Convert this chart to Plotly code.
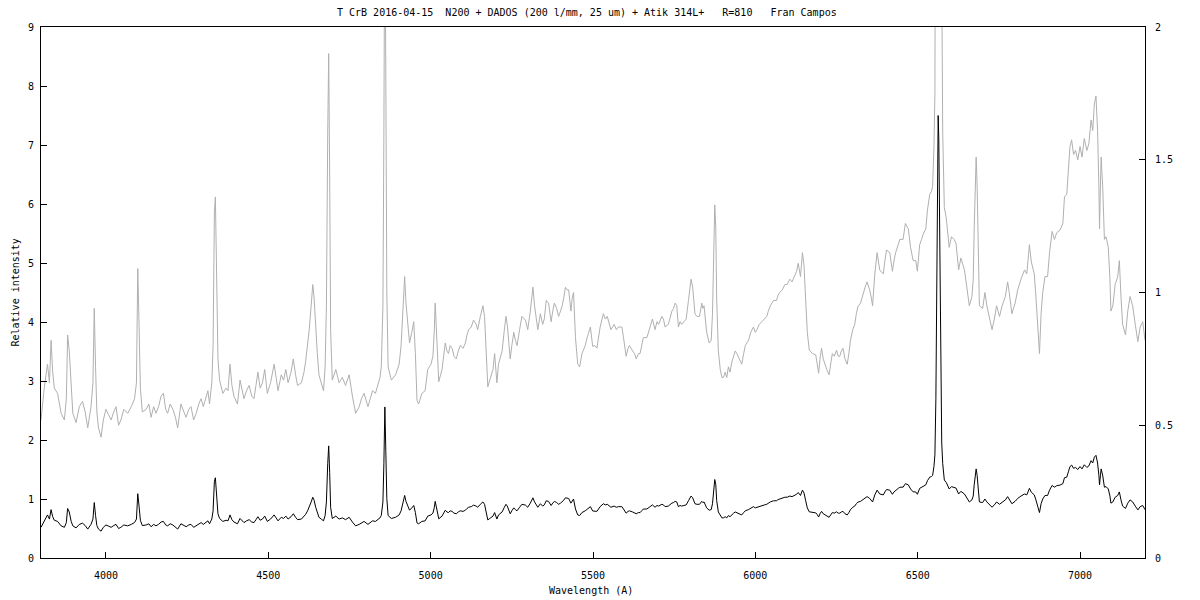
import plotly.graph_objects as go

# Wavelength (Angstrom) and relative intensity of the T CrB spectrum
wavelength = [
    3800, 3810, 3820, 3826, 3831, 3836, 3841, 3851, 3862, 3872, 3878, 3882, 3887, 3893, 3898, 3908,
    3918, 3928, 3936, 3944, 3954, 3960, 3964, 3968, 3972, 3977, 3985, 3992, 4000, 4008, 4016, 4024,
    4031, 4039, 4046, 4055, 4067, 4078, 4088, 4094, 4098, 4102, 4106, 4112, 4124, 4132, 4139, 4147,
    4154, 4162, 4170, 4177, 4184, 4190, 4198, 4206, 4214, 4221, 4231, 4240, 4247, 4255, 4262, 4270,
    4278, 4286, 4293, 4300, 4308, 4314, 4319, 4326, 4330, 4334, 4337, 4341, 4345, 4350, 4360, 4370,
    4376, 4382, 4388, 4394, 4405, 4413, 4420, 4425, 4433, 4441, 4449, 4456, 4462, 4468, 4475, 4482,
    4489, 4497, 4507, 4518, 4524, 4530, 4540, 4547, 4554, 4561, 4570, 4577, 4584, 4590, 4602, 4610,
    4615, 4621, 4626, 4632, 4637, 4641, 4646, 4651, 4656, 4663, 4670, 4675, 4679, 4683, 4686, 4689,
    4692, 4697, 4702, 4708, 4718, 4728, 4738, 4749, 4759, 4769, 4780, 4787, 4795, 4807, 4814, 4821,
    4830, 4838, 4844, 4848, 4853, 4856, 4859, 4862, 4865, 4869, 4879, 4892, 4903, 4909, 4913, 4917,
    4920, 4924, 4928, 4935, 4942, 4948, 4953, 4958, 4963, 4968, 4973, 4983, 4991, 5001, 5007, 5011,
    5014, 5017, 5021, 5025, 5035, 5040, 5045, 5050, 5055, 5060, 5066, 5072, 5079, 5085, 5091, 5100,
    5107, 5112, 5117, 5125, 5132, 5140, 5145, 5153, 5161, 5166, 5171, 5176, 5182, 5192, 5197, 5204,
    5209, 5215, 5220, 5227, 5232, 5236, 5240, 5245, 5250, 5256, 5261, 5266, 5274, 5281, 5292, 5299,
    5307, 5315, 5320, 5325, 5330, 5338, 5345, 5350, 5356, 5363, 5371, 5376, 5381, 5388, 5394, 5400,
    5405, 5410, 5415, 5420, 5425, 5432, 5436, 5440, 5446, 5453, 5459, 5466, 5476, 5482, 5487, 5492,
    5499, 5506, 5512, 5517, 5522, 5532, 5538, 5544, 5550, 5555, 5565, 5572, 5578, 5589, 5594, 5598,
    5602, 5608, 5612, 5622, 5628, 5633, 5640, 5645, 5650, 5655, 5666, 5674, 5679, 5683, 5691, 5697,
    5702, 5712, 5717, 5722, 5732, 5738, 5743, 5748, 5753, 5758, 5763, 5768, 5773, 5780, 5787, 5794,
    5798, 5802, 5807, 5810, 5814, 5820, 5828, 5835, 5838, 5842, 5846, 5850, 5858, 5864, 5868, 5871,
    5875, 5878, 5881, 5886, 5892, 5897, 5902, 5907, 5912, 5917, 5922, 5928, 5933, 5938, 5943, 5950,
    5958, 5964, 5969, 5979, 5986, 5994, 6000, 6005, 6012, 6020, 6028, 6035, 6040, 6046, 6056, 6065,
    6070, 6075, 6083, 6091, 6098, 6106, 6113, 6121, 6127, 6132, 6139, 6145, 6150, 6155, 6160, 6166,
    6176, 6186, 6190, 6195, 6200, 6204, 6209, 6214, 6220, 6227, 6232, 6237, 6243, 6250, 6255, 6260,
    6265, 6270, 6276, 6283, 6288, 6293, 6300, 6306, 6311, 6316, 6324, 6332, 6338, 6344, 6352, 6357,
    6361, 6368, 6375, 6383, 6394, 6399, 6404, 6414, 6422, 6427, 6432, 6440, 6445, 6455, 6462, 6471,
    6478, 6486, 6494, 6499, 6506, 6512, 6517, 6525, 6530, 6537, 6542, 6546, 6550, 6553, 6556, 6558,
    6561, 6563, 6565, 6568, 6571, 6574, 6577, 6582, 6588, 6597, 6604, 6612, 6618, 6626, 6633, 6644,
    6654, 6659, 6667, 6671, 6674, 6677, 6680, 6683, 6686, 6690, 6700, 6707, 6713, 6721, 6729, 6736,
    6743, 6752, 6760, 6770, 6777, 6782, 6790, 6800, 6808, 6818, 6829, 6836, 6844, 6850, 6859, 6864,
    6870, 6875, 6880, 6885, 6892, 6900, 6906, 6914, 6921, 6928, 6938, 6947, 6952, 6959, 6964, 6969,
    6974, 6980, 6986, 6993, 7000, 7006, 7013, 7021, 7027, 7034, 7039, 7044, 7049, 7054, 7058, 7060,
    7063, 7065, 7070, 7075, 7080, 7087, 7092, 7095, 7101, 7108, 7116, 7121, 7126, 7131, 7140, 7147,
    7154, 7162, 7170, 7178, 7185, 7193, 7200,
]

intensity = [
    0.52, 0.64, 0.73, 0.66, 0.82, 0.70, 0.64, 0.62, 0.545, 0.52, 0.60, 0.84, 0.78, 0.62, 0.545, 0.51,
    0.57, 0.59, 0.55, 0.49, 0.57, 0.66, 0.94, 0.72, 0.55, 0.49, 0.455, 0.52, 0.56, 0.54, 0.52, 0.55,
    0.57, 0.50, 0.52, 0.56, 0.545, 0.57, 0.60, 0.66, 1.09, 0.88, 0.64, 0.55, 0.56, 0.58, 0.53, 0.57,
    0.545, 0.57, 0.61, 0.62, 0.56, 0.545, 0.58, 0.56, 0.53, 0.49, 0.58, 0.55, 0.53, 0.56, 0.57, 0.52,
    0.545, 0.58, 0.60, 0.57, 0.61, 0.63, 0.58, 0.66, 0.80, 1.30, 1.36, 1.05, 0.75, 0.67, 0.62, 0.64,
    0.63, 0.73, 0.65, 0.61, 0.58, 0.67, 0.62, 0.60, 0.63, 0.65, 0.61, 0.60, 0.65, 0.70, 0.64, 0.66,
    0.71, 0.62, 0.66, 0.73, 0.68, 0.63, 0.69, 0.67, 0.71, 0.66, 0.70, 0.75, 0.69, 0.65, 0.66, 0.70,
    0.74, 0.80, 0.86, 0.95, 1.03, 0.98, 0.86, 0.77, 0.69, 0.66, 0.63, 0.72, 0.95, 1.60, 1.90, 1.45,
    0.86, 0.67, 0.69, 0.71, 0.66, 0.68, 0.65, 0.69, 0.61, 0.545, 0.57, 0.60, 0.62, 0.57, 0.60, 0.63,
    0.62, 0.65, 0.68, 0.72, 0.95, 1.60, 2.56, 1.80, 1.01, 0.72, 0.67, 0.69, 0.73, 0.80, 0.90, 1.00,
    1.06, 0.96, 0.90, 0.81, 0.85, 0.89, 0.77, 0.594, 0.58, 0.60, 0.62, 0.63, 0.71, 0.73, 0.76, 0.85,
    0.96, 0.88, 0.74, 0.664, 0.71, 0.76, 0.81, 0.78, 0.77, 0.80, 0.79, 0.76, 0.75, 0.78, 0.80, 0.79,
    0.81, 0.84, 0.86, 0.87, 0.896, 0.88, 0.86, 0.91, 0.95, 0.91, 0.75, 0.645, 0.67, 0.71, 0.77, 0.66,
    0.73, 0.76, 0.78, 0.86, 0.91, 0.88, 0.83, 0.75, 0.80, 0.85, 0.82, 0.80, 0.86, 0.91, 0.896, 0.86,
    0.93, 1.02, 0.95, 0.90, 0.86, 0.92, 0.88, 0.90, 0.97, 0.96, 0.89, 0.93, 0.96, 0.94, 0.91, 0.93,
    0.95, 0.98, 1.02, 1.01, 1.01, 0.93, 0.98, 1.00, 0.83, 0.73, 0.72, 0.77, 0.80, 0.83, 0.85, 0.87,
    0.797, 0.80, 0.79, 0.83, 0.87, 0.92, 0.90, 0.91, 0.88, 0.86, 0.88, 0.86, 0.87, 0.87, 0.83, 0.79,
    0.76, 0.79, 0.80, 0.78, 0.77, 0.75, 0.77, 0.77, 0.80, 0.83, 0.83, 0.86, 0.88, 0.90, 0.86, 0.89,
    0.88, 0.91, 0.90, 0.87, 0.88, 0.91, 0.93, 0.94, 0.96, 0.95, 0.87, 0.89, 0.88, 0.89, 0.90, 0.97,
    1.01, 1.05, 1.02, 0.97, 0.92, 0.91, 0.91, 0.96, 0.94, 0.95, 0.90, 0.85, 0.81, 0.82, 0.92, 1.16,
    1.33, 1.25, 0.97, 0.78, 0.71, 0.68, 0.68, 0.70, 0.68, 0.72, 0.70, 0.74, 0.76, 0.78, 0.77, 0.75,
    0.73, 0.77, 0.80, 0.82, 0.85, 0.87, 0.85, 0.86, 0.88, 0.89, 0.90, 0.91, 0.93, 0.95, 0.97, 0.97,
    0.99, 1.00, 1.01, 1.03, 1.03, 1.05, 1.04, 1.06, 1.08, 1.11, 1.06, 1.15, 1.10, 0.97, 0.85, 0.783,
    0.77, 0.765, 0.74, 0.696, 0.76, 0.79, 0.75, 0.73, 0.71, 0.69, 0.73, 0.77, 0.76, 0.783, 0.76, 0.76,
    0.78, 0.79, 0.75, 0.73, 0.77, 0.82, 0.86, 0.88, 0.92, 0.947, 0.96, 0.997, 1.02, 1.04, 1.01, 0.98,
    0.95, 1.07, 1.15, 1.085, 1.07, 1.12, 1.16, 1.15, 1.08, 1.12, 1.15, 1.18, 1.20, 1.20, 1.26, 1.24,
    1.17, 1.12, 1.12, 1.08, 1.18, 1.20, 1.22, 1.24, 1.31, 1.37, 1.38, 1.40, 1.55, 1.75, 2.70, 4.40,
    7.00, 7.50, 7.10, 4.85, 2.80, 1.95, 1.60, 1.32, 1.28, 1.17, 1.21, 1.20, 1.185, 1.085, 1.13, 1.085,
    1.00, 0.95, 0.985, 1.05, 1.24, 1.45, 1.51, 1.40, 1.20, 0.95, 0.94, 1.00, 0.95, 0.91, 0.86, 0.90,
    0.95, 0.91, 0.95, 0.985, 1.04, 1.00, 0.92, 0.96, 1.01, 1.05, 1.085, 1.07, 1.18, 1.115, 1.07, 0.985,
    0.865, 0.77, 0.92, 1.00, 1.06, 1.06, 1.15, 1.23, 1.20, 1.225, 1.235, 1.26, 1.36, 1.37, 1.46, 1.55,
    1.575, 1.52, 1.535, 1.50, 1.55, 1.51, 1.58, 1.535, 1.56, 1.65, 1.61, 1.71, 1.74, 1.61, 1.40, 1.24,
    1.42, 1.51, 1.39, 1.20, 1.21, 1.17, 1.05, 0.93, 0.95, 1.03, 1.06, 1.12, 0.985, 0.88, 0.84, 0.93,
    0.985, 0.95, 0.88, 0.815, 0.87, 0.89, 0.82,
]

x_ticks = [4000, 4500, 5000, 5500, 6000, 6500, 7000]
left_ticks = [0, 1, 2, 3, 4, 5, 6, 7, 8, 9]
right_ticks = [0, 0.5, 1, 1.5, 2]
right_labels = ["0", "0.5", "1", "1.5", "2"]

title_text = "T CrB 2016-04-15  N200 + DADOS (200 l/mm, 25 um) + Atik 314L+   R=810   Fran Campos"
xlabel = "Wavelength (A)"
ylabel = "Relative intensity"

FONT = "DejaVu Sans Mono"
fnt = dict(family=FONT, size=10, color="black")

# The page body has an 8px margin; size the figure so the plot box lands at
# x 41..1145, y 27..558 in the 1200x600 window.
W, H = 1192, 592
PL, PR, PT, PB = 33, 1137, 19, 550

fig = go.Figure()
# Gray: spectrum on the right-hand (0-2) scale
fig.add_trace(go.Scatter(x=wavelength, y=intensity, mode="lines", yaxis="y",
                         line=dict(color="#b0b0b0", width=1), showlegend=False, hoverinfo="skip"))
# Black: same spectrum on the left-hand (0-9) scale
fig.add_trace(go.Scatter(x=wavelength, y=intensity, mode="lines", yaxis="y2",
                         line=dict(color="black", width=1), showlegend=False, hoverinfo="skip"))

pw = PR - PL
ph = PB - PT

fig.update_layout(
    width=W, height=H,
    margin=dict(l=PL, r=W - PR, t=PT, b=H - PB, pad=0),
    paper_bgcolor="white", plot_bgcolor="white",
    font=fnt,
    xaxis=dict(range=[3800, 7200], tickvals=x_ticks, ticks="inside", ticklen=6,
               tickcolor="black", showline=True, linecolor="black", linewidth=1,
               mirror=True, showgrid=False, zeroline=False, tickfont=fnt,
               ticklabelstandoff=8),
    yaxis=dict(range=[0, 2], side="right", tickvals=right_ticks, ticktext=right_labels,
               ticks="inside", ticklen=6, tickcolor="black", showline=True,
               linecolor="black", linewidth=1, showgrid=False, zeroline=False,
               tickfont=fnt, ticklabelstandoff=7),
    yaxis2=dict(range=[0, 9], side="left", overlaying="y", tickvals=left_ticks,
                ticks="inside", ticklen=6, tickcolor="black", showline=True,
                linecolor="black", linewidth=1, showgrid=False, zeroline=False,
                tickfont=fnt, ticklabelstandoff=4),
    annotations=[
        dict(text=title_text.replace(" ", "\u00a0"), xref="paper", yref="paper",
             x=(587 - 41) / pw, y=1 + 14 / ph, xanchor="center", yanchor="middle",
             showarrow=False, font=fnt),
        dict(text=xlabel.replace(" ", "\u00a0"), xref="paper", yref="paper",
             x=(591 - 41) / pw, y=-32 / ph, xanchor="center", yanchor="middle",
             showarrow=False, font=fnt),
        dict(text=ylabel.replace(" ", "\u00a0"), xref="paper", yref="paper",
             x=(7 - PL) / pw, y=0.5, xanchor="center", yanchor="middle", textangle=-90,
             showarrow=False, font=fnt),
    ],
)

fig.write_html("out.html")
